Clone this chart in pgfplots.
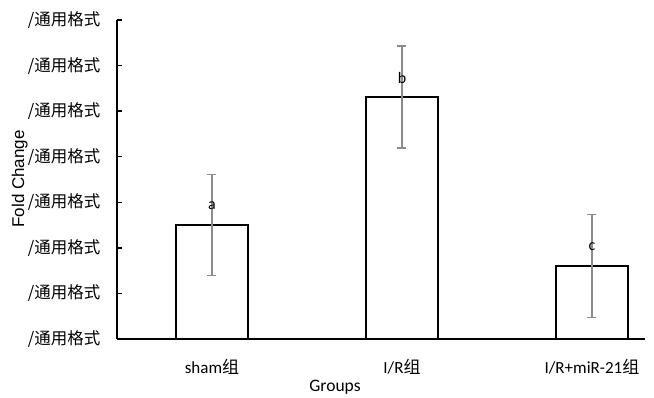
\documentclass[border=0pt]{standalone}
\usepackage{pgfplots}
\pgfplotsset{compat=1.18}
\usepackage{fontspec}
\setmainfont{Carlito}
\newfontfamily\cjk{Noto Sans CJK SC}
\newfontfamily\arial{Liberation Sans}
\definecolor{errgray}{RGB}{140,140,140}
\begin{document}
\begin{tikzpicture}
\useasboundingbox (0,0) rectangle (654pt,398pt);
\begin{axis}[
  at={(117pt,59pt)}, anchor=south west,
  scale only axis, width=528pt, height=319pt,
  xmin=-0.5, xmax=2.279, ymin=0, ymax=7,
  axis lines=left, axis line style={-, line width=1.3pt, black},
  ytick={0,1,2,3,4,5,6,7},
  yticklabels={/通用格式,/通用格式,/通用格式,/通用格式,/通用格式,/通用格式,/通用格式,/通用格式},
  yticklabel style={font=\cjk\fontsize{16.5}{18}\selectfont, anchor=east, xshift=-13pt},
  ytick style={line width=1.3pt, black}, tick align=inside, major tick length=5pt,
  xtick={0,1,2},
  xticklabels={sham{\cjk 组},I/R{\cjk 组},I/R+miR-21{\cjk 组}},
  xtick style={draw=none},
  xticklabel style={font=\fontsize{17}{18}\selectfont, anchor=center, yshift=-28pt},
  xlabel={Groups},
  xlabel style={font=\fontsize{17.5}{18}\selectfont, at={(axis description cs:0.413,-0.152)}, anchor=center},
  ylabel={Fold Change},
  ylabel style={font=\arial\fontsize{17}{18}\selectfont, at={(axis description cs:-0.184,0.502)}, anchor=center, rotate=0},
  clip=false,
]
\addplot[ybar, bar width=0.379, draw=black, fill=white, line width=1.3pt,
  error bars/.cd, y dir=both, y explicit,
  error bar style={errgray, line width=1.6pt},
  error mark options={rotate=90, mark size=4.5pt, errgray, line width=1.6pt}]
  table[x=x, y=y, y error=e] {
x y e
0 2.50 1.108
1 5.31 1.12
2 1.60 1.13
};
\addplot[only marks, mark=none,
  nodes near coords, point meta=explicit symbolic,
  every node near coord/.style={anchor=center, yshift=19pt, font=\fontsize{16}{18}\selectfont, text=black}]
  table[x=x, y=y, meta=l] {
x y l
0 2.50 a
1 5.31 b
2 1.60 c
};
\end{axis}
\end{tikzpicture}
\end{document}
